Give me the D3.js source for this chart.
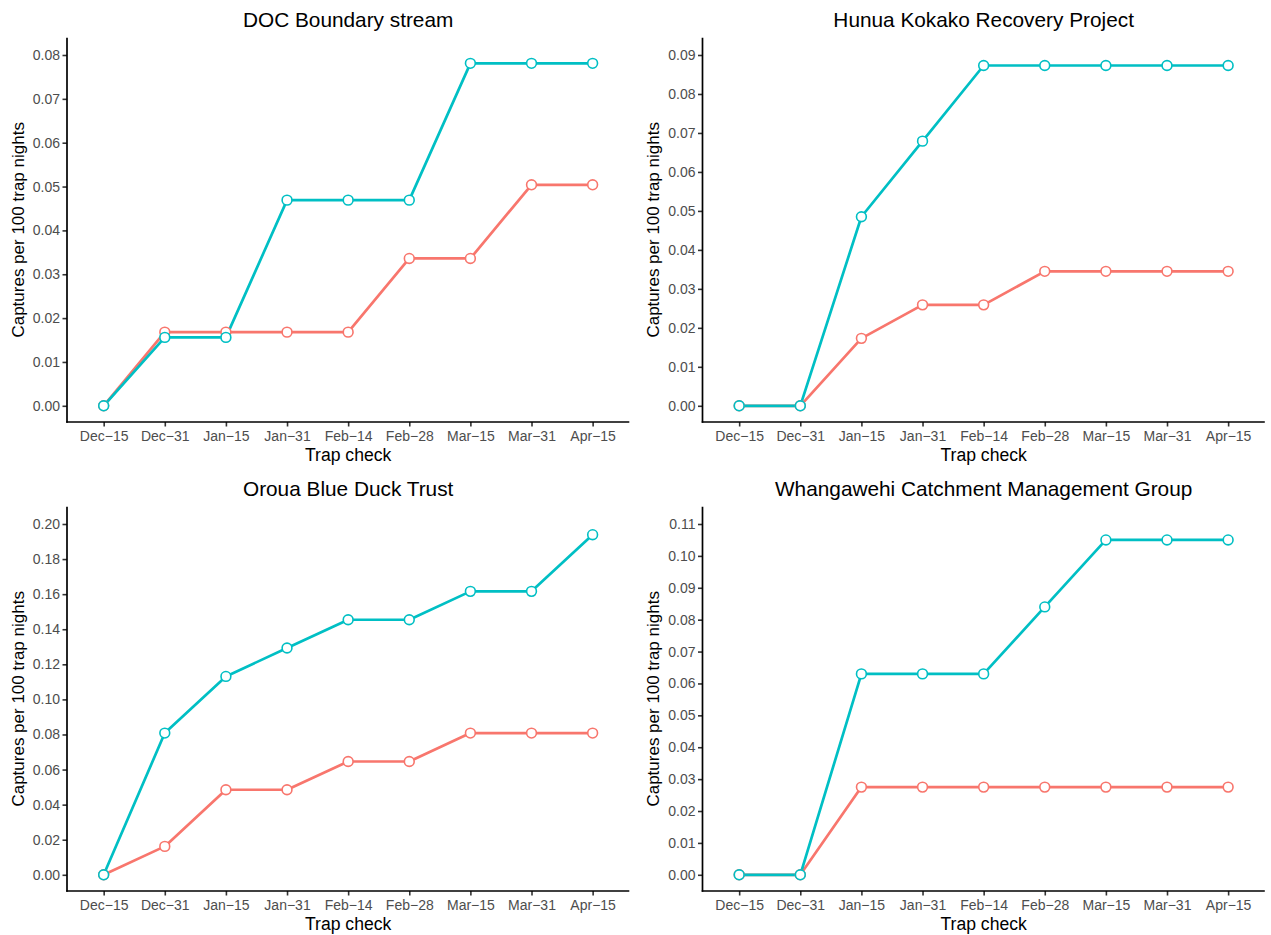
<!DOCTYPE html>
<html>
<head>
<meta charset="utf-8">
<script src="https://cdn.jsdelivr.net/npm/d3@7"></script>
<style>
  html, body { margin: 0; padding: 0; background: #fff; }
  svg { display: block; font-family: "Liberation Sans", Arial, Helvetica, sans-serif; }
</style>
</head>
<body>
<div id="chart"></div>
<script>
// trap check dates (x axis)
var checks = ['Dec\u221215', 'Dec\u221231', 'Jan\u221215', 'Jan\u221231', 'Feb\u221214',
              'Feb\u221228', 'Mar\u221215', 'Mar\u221231', 'Apr\u221215'];

// captures per 100 trap nights
var docRed     = [0, 0.0168, 0.0168, 0.0168, 0.0168, 0.0336, 0.0336, 0.0504, 0.0504];
var docCyan    = [0, 0.0156, 0.0156, 0.0469, 0.0469, 0.0469, 0.0781, 0.0781, 0.0781];
var hunuaRed   = [0, 0, 0.0173, 0.0259, 0.0259, 0.0345, 0.0345, 0.0345, 0.0345];
var hunuaCyan  = [0, 0, 0.0485, 0.0679, 0.0873, 0.0873, 0.0873, 0.0873, 0.0873];
var orouaRed   = [0, 0.0162, 0.0485, 0.0485, 0.0646, 0.0646, 0.0808, 0.0808, 0.0808];
var orouaCyan  = [0, 0.0808, 0.1131, 0.1293, 0.1454, 0.1454, 0.1616, 0.1616, 0.1939];
var whangaRed  = [0, 0, 0.0275, 0.0275, 0.0275, 0.0275, 0.0275, 0.0275, 0.0275];
var whangaCyan = [0, 0, 0.063, 0.063, 0.063, 0.084, 0.105, 0.105, 0.105];

var titles = ['DOC Boundary stream', 'Hunua Kokako Recovery Project',
              'Oroua Blue Duck Trust', 'Whangawehi Catchment Management Group'];
var tickMax  = [0.08, 0.09, 0.20, 0.11];
var tickStep = [0.01, 0.01, 0.02, 0.01];

var RED = '#F8766D', CYAN = '#00BFC4';

var width = 1271, height = 935;
var svg = d3.select('#chart').append('svg')
    .attr('width', width)
    .attr('height', height);

var panels = [
    { title: titles[0], red: docRed,    cyan: docCyan,    max: tickMax[0], step: tickStep[0], col: 0, row: 0 },
    { title: titles[1], red: hunuaRed,  cyan: hunuaCyan,  max: tickMax[1], step: tickStep[1], col: 1, row: 0 },
    { title: titles[2], red: orouaRed,  cyan: orouaCyan,  max: tickMax[2], step: tickStep[2], col: 0, row: 1 },
    { title: titles[3], red: whangaRed, cyan: whangaCyan, max: tickMax[3], step: tickStep[3], col: 1, row: 1 }
];

panels.forEach(drawPanel);

function drawPanel(p) {
    var left = 67 + p.col * 635.5;
    var right = left + 562.3;
    var top = 37.7 + p.row * 469;
    var bottom = top + 384.3;

    var g = svg.append('g');

    var x = d3.scalePoint()
        .domain(checks)
        .range([left, right])
        .padding(0.6);

    var y = d3.scaleLinear()
        .domain([0, p.max])
        .range([bottom - 16.2, top + 17.3]);

    var nTicks = Math.round(p.max / p.step);
    var yTicks = d3.range(0, nTicks + 1).map(function(i) { return +(i * p.step).toFixed(4); });

    // y axis
    var yAxis = g.append('g')
        .attr('transform', 'translate(' + left + ',0)')
        .call(d3.axisLeft(y).tickValues(yTicks).tickFormat(d3.format('.2f')).tickSize(4.5).tickPadding(2.5));
    yAxis.select('.domain').remove();
    yAxis.selectAll('.tick line').attr('stroke', '#333').attr('stroke-width', 1.6);
    yAxis.selectAll('.tick text').attr('fill', '#4D4D4D').attr('font-size', '14px')
        .attr('font-family', null);

    // x axis
    var xAxis = g.append('g')
        .attr('transform', 'translate(0,' + bottom + ')')
        .call(d3.axisBottom(x).tickSize(4.5).tickPadding(4.5));
    xAxis.select('.domain').remove();
    xAxis.selectAll('.tick line').attr('stroke', '#333').attr('stroke-width', 1.6);
    xAxis.selectAll('.tick text').attr('fill', '#4D4D4D').attr('font-size', '14px')
        .attr('font-family', null);

    // axis lines (full panel extent, theme_classic)
    g.append('line')
        .attr('x1', left).attr('x2', left)
        .attr('y1', top).attr('y2', bottom + 0.8)
        .attr('stroke', '#000').attr('stroke-width', 1.7);
    g.append('line')
        .attr('x1', left - 0.8).attr('x2', right)
        .attr('y1', bottom).attr('y2', bottom)
        .attr('stroke', '#000').attr('stroke-width', 1.7);

    var series = [
        { color: RED, values: p.red },
        { color: CYAN, values: p.cyan }
    ];

    var line = d3.line()
        .x(function(d, i) { return x(checks[i]); })
        .y(function(d) { return y(d); });

    g.append('g').selectAll('path')
        .data(series)
        .join('path')
        .attr('d', function(s) { return line(s.values); })
        .attr('fill', 'none')
        .attr('stroke', function(s) { return s.color; })
        .attr('stroke-width', 2.7)
        .attr('stroke-linejoin', 'round');

    series.forEach(function(s) {
        g.append('g').selectAll('circle')
            .data(s.values)
            .join('circle')
            .attr('cx', function(d, i) { return x(checks[i]); })
            .attr('cy', function(d) { return y(d); })
            .attr('r', 4.9)
            .attr('fill', '#fff')
            .attr('stroke', s.color)
            .attr('stroke-width', 1.6);
    });

    // titles
    g.append('text')
        .attr('x', (left + right) / 2)
        .attr('y', top - 10.4)
        .attr('text-anchor', 'middle')
        .attr('font-size', '20.8px')
        .attr('fill', '#000')
        .text(p.title);

    g.append('text')
        .attr('x', (left + right) / 2)
        .attr('y', bottom + 39)
        .attr('text-anchor', 'middle')
        .attr('font-size', '17.6px')
        .attr('fill', '#000')
        .text('Trap check');

    g.append('text')
        .attr('transform', 'translate(' + (left - 43.4) + ',' + ((top + bottom) / 2) + ') rotate(-90)')
        .attr('text-anchor', 'middle')
        .attr('font-size', '17px')
        .attr('fill', '#000')
        .text('Captures per 100 trap nights');
}
</script>
</body>
</html>
